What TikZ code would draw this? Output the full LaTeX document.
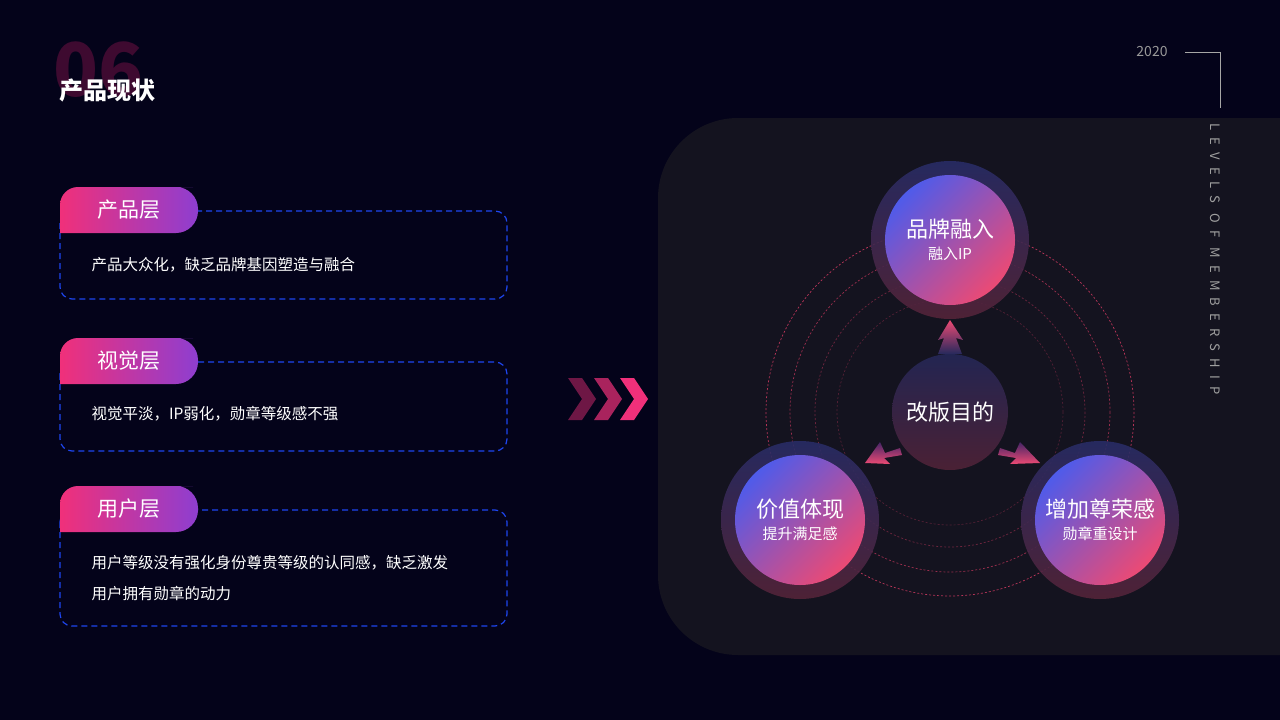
\documentclass[tikz,border=0pt]{standalone}
\usepackage{fontspec}
\setmainfont{Noto Sans CJK SC}
\usetikzlibrary{positioning}
\definecolor{bgdark}{HTML}{04031A}
\definecolor{panel}{HTML}{14131F}
\definecolor{pinkA}{HTML}{F0307A}
\definecolor{purpA}{HTML}{8E3ED0}
\definecolor{blueC}{HTML}{4F5BEA}
\definecolor{pinkC}{HTML}{EC4A74}
\definecolor{ringc}{HTML}{C8385E}
\definecolor{dashb}{HTML}{1E46F0}
\definecolor{numc}{HTML}{3E0A30}
\tikzset{
  ball/.style={circle,minimum size=130pt,inner sep=0pt,shade,top color=blueC,bottom color=pinkC,
    shading angle=45,text=white,align=center},
  halo/.style={circle,minimum size=158pt,inner sep=0pt,shade,
    top color=blueC!35!panel,bottom color=pinkC!30!panel,opacity=0.9},
  ring/.style={draw=ringc,dash pattern=on 2pt off 2pt,line width=0.7pt},
  box/.style={draw=dashb,dash pattern=on 6pt off 4pt,line width=1.2pt,rounded corners=12pt},
  pill/.style={shade,left color=pinkA,right color=purpA},
  tag/.style={text=white,font=\fontsize{21}{24}\selectfont},
  note/.style={text=white,font=\fontsize{15.5}{31}\selectfont,anchor=west,align=left},
  chev/.style={fill=#1}
}
\newcommand\balltext[2]{{\fontsize{22}{26}\selectfont #1}\\[7pt]{\fontsize{15}{18}\selectfont #2}}
\begin{document}
\begin{tikzpicture}[x=1pt,y=-1pt]
\fill[bgdark] (0,0) rectangle (1280,720);
\useasboundingbox (0,0) rectangle (1280,720);
% panel
\fill[panel,rounded corners=80pt] (1400,118) -- (658,118) -- (658,655) -- (1400,655) -- cycle;
% title
\node[text=numc,font=\fontsize{74}{74}\bfseries\selectfont,anchor=west] (num) at (50,70) {06};
\node[text=white,font=\fontsize{24}{24}\bfseries\selectfont,anchor=west] (title) at (56,90) {产品现状};
% year corner
\node[text=gray!80,font=\fontsize{14}{14}\selectfont] (year) at (1152,52) {2020};
\coordinate (yr1) at (1185,52);
\coordinate (yr2) at (1220,52);
\coordinate (yr3) at (1220,108);
\draw[gray!70,line width=1pt] (yr1) -- (yr2) -- (yr3);
\node[text=gray!75,rotate=-90,font=\fontsize{13}{13}\addfontfeature{LetterSpace=55}\selectfont,anchor=west] (lvl) at (1215,120) {LEVELS OF MEMBERSHIP};
% left items
\foreach \n/\t/\b/\tag in {a/187/299/产品层,b/338/451/视觉层,c/486/626/用户层}{
  \draw[box] (60,\t+24) rectangle (507,\b);
  \path[pill] (60,\t+46) {[rounded corners=18pt] -- (60,\t) -- (175,\t)}
    {[rounded corners=22pt] -- (198,\t) -- (198,\t+46)} -- cycle;
  \node[tag] (tag-\n) at (129,\t+23) {\tag};
}
\node[note] (note-a) at (88,265) {产品大众化，缺乏品牌基因塑造与融合};
\node[note] (note-b) at (88,414) {视觉平淡，IP弱化，勋章等级感不强};
\node[note] (note-c) at (88,578) {用户等级没有强化身份尊贵等级的认同感，缺乏激发\\用户拥有勋章的动力};
% chevrons
\foreach \x/\c in {568/pinkA!45!bgdark,594/pinkA!70!bgdark,620/pinkA}{
  \fill[chev=\c] (\x,378) -- (\x+14,378) -- (\x+28,399) -- (\x+14,420) -- (\x,420) -- (\x+14,399) -- cycle;
}
% rings
\coordinate (mid) at (950,412);
\foreach \r/\o in {184/0.9,160/0.75,135/0.5,113/0.35}{
  \draw[ring,opacity=\o] (mid) circle[radius=\r];
}
% center
\node[circle,minimum size=116pt,shade,top color=blueC!25!panel,bottom color=pinkC!25!panel,
  text=white,font=\fontsize{22}{22}\selectfont] (goal) at (mid) {改版目的};
% nodes
\node[halo] at (950,240) {};
\node[halo] at (800,520) {};
\node[halo] at (1100,520) {};
\node[ball] (brand) at (950,240) {\balltext{品牌融入}{融入IP}};
\node[ball] (value) at (800,520) {\balltext{价值体现}{提升满足感}};
\node[ball] (honor) at (1100,520) {\balltext{增加尊荣感}{勋章重设计}};
% arrows
\path[shade,top color=pinkC,bottom color=blueC!30!panel]
  (938,354) -- (944,338) -- (938,340) -- (950,320) -- (963,340) -- (956,338) -- (962,354) -- cycle;
\path[shade,shading angle=45,top color=purpA!40!panel,bottom color=pinkC]
  (900,448) -- (885,453) -- (880,442) -- (865,463) -- (890,464) -- (884,458) -- (902,455) -- cycle;
\path[shade,shading angle=-45,top color=purpA!40!panel,bottom color=pinkC]
  (1000,448) -- (1015,453) -- (1020,442) -- (1040,463) -- (1010,464) -- (1016,458) -- (998,455) -- cycle;
\end{tikzpicture}
\end{document}
